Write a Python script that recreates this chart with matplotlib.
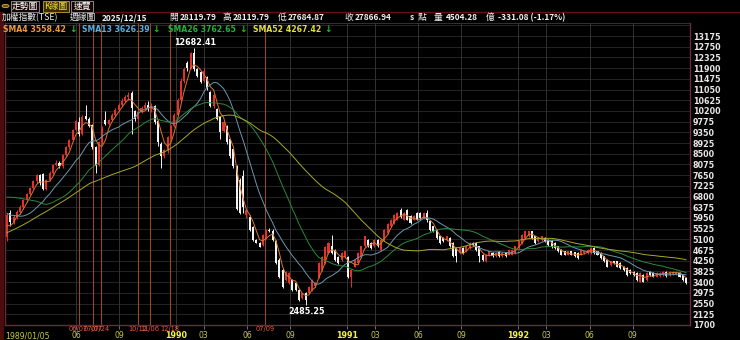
import matplotlib
matplotlib.use('Agg')
import matplotlib.pyplot as plt
from matplotlib.patches import Rectangle, Circle
import numpy as np
import pandas as pd

CJK = ['Noto Sans CJK TC', 'DejaVu Sans']

# weekly TAIEX bars starting 1989/01/05
opens = [
    5200, 6160, 5780, 5980, 6200, 6400, 6650, 6900, 7150, 7400, 7650, 7700, 7100,
    7450, 7750, 8050, 8150, 8000, 8450, 8750, 9050, 9450, 9750, 9300, 10000, 9900,
    9650, 8750, 8050, 8950, 9850, 9700, 9850, 10050, 10250, 10450, 10600, 10750, 10900,
    10200, 9900, 10150, 10300, 10450, 10300, 10400, 9800, 8900, 8400, 8650, 9150, 9600,
    10050, 10650, 11400, 12100, 11900, 12500, 11850, 11750, 11400, 11550, 10950, 10400, 10270,
    9950, 9390, 9590, 9070, 8672, 7995, 7477, 7600, 6050, 6000, 5600, 5086, 4967,
    4887, 5166, 5485, 5450, 5050, 4290, 3891, 3493, 3373, 3493, 3373, 3094, 2764,
    2963, 2963, 3094, 3230, 3612, 3891, 4170, 4568, 4820, 4688, 4409, 4290, 4420,
    4420, 3624, 4023, 4158, 4421, 4820, 5086, 4954, 4820, 5086, 4688, 5086, 5352,
    5618, 5751, 5883, 6250, 5883, 6250, 6020, 5883, 6150, 6150, 5950, 6150, 5820,
    5620, 5485, 5220, 5150, 5086, 5150, 4950, 4755, 4556, 4755, 4620, 4755, 4954,
    4954, 4820, 4489, 4222, 4489, 4556, 4421, 4590, 4421, 4556, 4489, 4489, 4556,
    4755, 4954, 5153, 5218, 5418, 5218, 5020, 5086, 5153, 5086, 5050, 4950, 4820,
    4690, 4620, 4490, 4620, 4580, 4556, 4489, 4556, 4556, 4556, 4755, 4620, 4556,
    4421, 4290, 4090, 4222, 4222, 4158, 4023, 3959, 3891, 3824, 3760, 3425, 3692,
    3493, 3824, 3760, 3624, 3650, 3692, 3800, 3692, 3720, 3730, 3760, 3692, 3561,
]
highs = [
    6150, 6250, 6050, 6250, 6450, 6700, 6950, 7200, 7450, 7700, 7700, 7750, 7500,
    7800, 8100, 8250, 8200, 8500, 8800, 9100, 9500, 9850, 9950, 10050, 10450, 9950,
    9700, 8800, 9000, 9600, 10200, 9900, 10100, 10300, 10500, 10700, 10850, 10950, 11000,
    10250, 10200, 10400, 10550, 10600, 10500, 10450, 9850, 8950, 8700, 9200, 9650, 10100,
    10700, 11500, 11950, 12200, 12550, 12682.41, 11900, 11800, 11900, 11600, 11000, 10900, 10300,
    10000, 9800, 9650, 9100, 8700, 8050, 7550, 7875, 6300, 6050, 5650, 5120, 5000,
    5300, 5500, 5560, 5520, 5080, 4350, 3950, 3850, 3800, 3530, 3400, 3130, 2990,
    3000, 3260, 3520, 3400, 4200, 4450, 4850, 5000, 5286, 4720, 4450, 4600, 4650,
    4450, 3920, 4300, 4590, 4850, 5250, 5120, 4990, 5120, 5120, 5120, 5520, 5750,
    5920, 6120, 6200, 6365, 6200, 6300, 6050, 6050, 6180, 6180, 6200, 6250, 5850,
    5650, 5520, 5250, 5180, 5250, 5180, 4980, 4800, 4800, 4790, 4850, 4990, 5000,
    4990, 4850, 4520, 4520, 4650, 4590, 4590, 4620, 4590, 4590, 4720, 4720, 4850,
    5050, 5320, 5450, 5450, 5450, 5250, 5180, 5250, 5180, 5120, 5086, 4990, 4850,
    4720, 4650, 4650, 4650, 4610, 4590, 4720, 4650, 4720, 4790, 4790, 4650, 4590,
    4450, 4320, 4250, 4250, 4250, 4190, 4050, 3990, 3920, 3850, 3790, 3790, 3720,
    3790, 3850, 3790, 3790, 3790, 3850, 3830, 3850, 3850, 3850, 3790, 3720, 3590,
]
lows = [
    5050, 5650, 5700, 5900, 6100, 6300, 6600, 6850, 7100, 7350, 7250, 7050, 7050,
    7400, 7700, 8000, 7950, 7950, 8400, 8700, 9000, 9400, 9200, 9250, 9850, 9550,
    8700, 7750, 8000, 8900, 9650, 9650, 9800, 10000, 10200, 10400, 10550, 10650, 9300,
    9800, 9850, 10100, 10250, 10200, 10150, 9700, 8800, 7950, 8350, 8550, 9100, 9550,
    10000, 10600, 11300, 11800, 11850, 11800, 11550, 11300, 11350, 11050, 10350, 10300, 9850,
    9070, 9350, 8900, 8350, 7950, 6250, 6100, 6150, 5950, 5450, 5050, 4950, 4790,
    4850, 5120, 5380, 5050, 4130, 3580, 3180, 3450, 3330, 3060, 3050, 2660, 2720,
    2485.25, 2930, 3060, 3200, 3580, 3850, 4130, 4530, 4520, 4250, 4130, 4250, 4380,
    3580, 3226, 3990, 4120, 4380, 4780, 4790, 4720, 4790, 4790, 4650, 5050, 5320,
    5580, 5720, 5850, 5960, 5850, 5850, 5720, 5850, 5850, 5900, 5900, 5800, 5450,
    5380, 5120, 4920, 4990, 5050, 4790, 4400, 4200, 4520, 4530, 4590, 4720, 4850,
    4650, 4200, 4260, 4190, 4450, 4400, 4400, 4420, 4400, 4400, 4460, 4460, 4520,
    4720, 4920, 5120, 5190, 5120, 4920, 4990, 5050, 4990, 4850, 4760, 4720, 4590,
    4460, 4460, 4460, 4460, 4420, 4330, 4460, 4520, 4520, 4520, 4520, 4460, 4330,
    4190, 3990, 4060, 4120, 3990, 3930, 3860, 3660, 3730, 3660, 3460, 3390, 3390,
    3460, 3660, 3590, 3590, 3620, 3660, 3620, 3660, 3690, 3700, 3590, 3460, 3330,
]
closes = [
    6080, 5780, 5980, 6200, 6400, 6650, 6900, 7150, 7400, 7650, 7350, 7100, 7450,
    7750, 8050, 8150, 8000, 8450, 8750, 9050, 9450, 9800, 9300, 9950, 9900, 9600,
    8750, 8000, 8950, 9500, 9700, 9850, 10050, 10250, 10450, 10600, 10750, 10850, 10300,
    9900, 10150, 10300, 10450, 10300, 10400, 9750, 8950, 8400, 8650, 9150, 9600, 10050,
    10650, 11400, 11850, 11900, 12500, 11880, 11600, 11350, 11800, 11100, 10400, 10850, 9870,
    9350, 9750, 8950, 8400, 8000, 6300, 6160, 6400, 6250, 5485, 5086, 4967, 4808,
    5286, 5485, 5420, 5086, 4170, 3612, 3214, 3812, 3772, 3094, 3094, 2696, 2963,
    2696, 3226, 3493, 3361, 4170, 4409, 4808, 4967, 4556, 4290, 4170, 4568, 4620,
    3624, 3891, 4290, 4556, 4820, 5218, 4820, 4755, 5086, 4820, 5086, 5485, 5711,
    5883, 6082, 6150, 5990, 6150, 5883, 5750, 6016, 5883, 5950, 6150, 5850, 5485,
    5420, 5154, 4954, 5020, 5218, 4820, 4421, 4421, 4755, 4556, 4820, 4954, 4880,
    4688, 4421, 4290, 4489, 4620, 4421, 4556, 4450, 4556, 4421, 4688, 4688, 4820,
    5020, 5286, 5418, 5418, 5153, 4954, 5153, 5218, 5020, 4887, 4790, 4760, 4620,
    4490, 4490, 4620, 4490, 4450, 4357, 4688, 4620, 4688, 4755, 4556, 4489, 4357,
    4222, 4023, 4222, 4158, 4023, 3959, 3891, 3692, 3760, 3692, 3493, 3760, 3425,
    3760, 3692, 3624, 3760, 3760, 3824, 3650, 3824, 3824, 3824, 3624, 3493, 3361,
]

# 1988 weekly closes, only used so the averages start with history behind them
closes_1988 = [
    2550, 2650, 2800, 2900, 3000, 3050, 3150, 3250, 3300, 3400, 3450, 3500, 3550,
    3650, 3800, 3950, 4100, 4300, 4500, 4650, 4800, 4900, 5000, 5100, 5200, 5300,
    5500, 5800, 6200, 6600, 6900, 7200, 7500, 7800, 8000, 8300, 8500, 8700, 7900,
    7000, 6700, 6200, 6400, 6600, 6500, 6300, 6300, 6200, 6000, 5800, 5500, 5200,
]

ma_periods = [4, 13, 26, 52]
ma_colors = ['#d9772c', '#6b98ae', '#2c8a3a', '#a8a82a']
legend_text = ['SMA4 3558.42', 'SMA13 3626.39', 'SMA26 3762.65', 'SMA52 4267.42']
legend_colors = ['#f09a3e', '#5aaee0', '#22b33a', '#e0e040']

event_dates = ['1989-06-07', '1989-07-07', '1989-07-24', '1989-10-12',
               '1989-11-06', '1989-12-18', '1990-07-09']
event_labels = ['06/07', '07/07', '07/24', '10/12', '11/06', '12/18', '07/09']

tick_dates = ['1989-06-01', '1989-09-01', '1990-01-01', '1990-03-01', '1990-06-01',
              '1990-09-01', '1991-01-01', '1991-03-01', '1991-06-01', '1991-09-01',
              '1992-01-01', '1992-03-01', '1992-06-01', '1992-09-01']
tick_labels = ['06', '09', '1990', '03', '06', '09', '1991', '03', '06', '09',
               '1992', '03', '06', '09']

y_ticks = np.arange(1700, 13176, 425)

W, H = 740, 340
fig = plt.figure(figsize=(W / 100, H / 100), dpi=100, facecolor='black')


def fx(px):
    return px / W


def fy(py):
    return 1 - py / H


ax = fig.add_axes([fx(5), fy(325), 685 / W, 302 / H])
ax.set_facecolor('black')

n = len(closes)
x = np.arange(n)
o, hi, lo, c = (np.array(a, dtype=float) for a in (opens, highs, lows, closes))
start = pd.Timestamp('1989-01-05')


def week_pos(d):
    return (pd.Timestamp(d) - start).days / 7


# grid
for v in np.arange(2125, 13700, 425):
    ax.axhline(v, color='#2a2a2a', lw=0.6, zorder=1)
tick_pos = [week_pos(d) for d in tick_dates]
for p in tick_pos:
    ax.axvline(p, color='#3a3a3a', lw=0.6, zorder=1)
for d in event_dates:
    ax.axvline(week_pos(d), color='#8c4a26', lw=0.8, zorder=2)

# candles
colors = np.where(c >= o, '#e8302a', '#f2f2f2')
ax.vlines(x, lo, hi, colors=colors, lw=0.7, zorder=3)
ax.bar(x, np.maximum(np.abs(c - o), 15), bottom=np.minimum(o, c), width=0.62,
       color=colors, linewidth=0, zorder=4)

# moving averages
allc = pd.Series(closes_1988 + closes, dtype=float)
for p, col in zip(ma_periods, ma_colors):
    ma = allc.rolling(p).mean().iloc[len(closes_1988):].values
    ax.plot(x, ma, color=col, lw=0.7, zorder=5)

# high / low labels
ih, il = int(np.argmax(hi)), int(np.argmin(lo))
ax.annotate(f'{hi[ih]:.2f}', (ih, hi[ih]), xytext=(1, 1), textcoords='offset points',
            ha='center', va='bottom', color='white', fontsize=5.8, fontweight='bold', zorder=6)
ax.annotate(f'{lo[il]:.2f}', (il, lo[il]), xytext=(1, -1), textcoords='offset points',
            ha='center', va='top', color='white', fontsize=5.8, fontweight='bold', zorder=6)

ax.set_xlim(-0.61, 208.2)
ax.set_ylim(1700, 13693)

ax.yaxis.tick_right()
ax.set_yticks(y_ticks)
ax.set_yticklabels([str(v) for v in y_ticks], fontsize=5.8, fontweight='bold', color='#e6e6e6')
ax.tick_params(axis='y', length=0, pad=2)
ax.set_xticks(tick_pos)
ax.set_xticklabels([])
ax.tick_params(axis='x', length=3, color='#808080', width=0.6)

for s in ['left', 'bottom', 'right']:
    ax.spines[s].set_color('#6b2a3c')
    ax.spines[s].set_linewidth(1)
ax.spines['top'].set_color('#3a3a3a')
ax.spines['top'].set_linewidth(0.6)

xt = ax.get_xaxis_transform()
ax.text(0.0, -0.035, '1989/01/05', transform=ax.transAxes, ha='left', va='center',
        fontsize=5.6, color='#c8c84a')
for p, lab in zip(tick_pos, tick_labels):
    year = len(lab) == 4
    ax.text(p, -0.035, lab, transform=xt, ha='center', va='center',
            fontsize=5.8 if year else 5.6, fontweight='bold' if year else 'normal',
            color='#f4f43c' if year else '#c8c84a')
for d, lab in zip(event_dates, event_labels):
    ax.text(week_pos(d), -0.012, lab, transform=xt, ha='center', va='center',
            fontsize=4.8, color='#e8603a')

# frame decorations
fig.add_artist(Rectangle((0, 0), fx(3.5), fy(12), transform=fig.transFigure,
                         facecolor='#4a0c0c', edgecolor='none'))
fig.add_artist(plt.Line2D([fx(95), 1], [fy(12), fy(12)], transform=fig.transFigure,
                          color='#6a1010', lw=1))

# tab row
fig.add_artist(Circle((fx(5.5), fy(6)), 3.5 / W, transform=fig.transFigure,
                      facecolor='#6a5010', edgecolor='#d0b040', lw=0.6))
tabs = [('走勢圖', 11, 39, '#1a0505', '#9a9a9a', 'white'),
        ('K線圖', 43, 69, '#3a2a00', '#c0a030', '#f0e040'),
        ('速覽', 71, 93, '#1a0505', '#9a9a9a', 'white')]
for label, x0, x1, fc, ec, tc in tabs:
    fig.add_artist(Rectangle((fx(x0), fy(11.5)), (x1 - x0) / W, 11 / H, transform=fig.transFigure,
                             facecolor=fc, edgecolor=ec, lw=0.6))
    fig.text(fx((x0 + x1) / 2), fy(6), label, ha='center', va='center', fontsize=6.3,
             color=tc, family=CJK)

# quote row
quote = [('加權指數(TSE)', 2, False), ('週線圖', 70, False), ('2025/12/15', 102, True),
         ('開', 169, False), ('28119.79', 180, True), ('高', 223, False),
         ('28119.79', 233, True), ('低', 278, False), ('27684.87', 288, True),
         ('收', 344, False), ('27866.94', 355, True), ('s', 410, True), ('點', 418, False),
         ('量', 434, False), ('4504.28', 446, True), ('億', 486, False),
         ('-331.08 (-1.17%)', 498, True)]
for txt, px, bold in quote:
    fig.text(fx(px), fy(17.5), txt, ha='left', va='center', fontsize=6.0 if bold else 6.3,
             fontweight='bold' if bold else 'normal', color='#f0f0f0', family=CJK)

# moving average legend
legend_x = [3, 82, 168, 253]
for txt, col, px in zip(legend_text, legend_colors, legend_x):
    t = fig.text(fx(px), fy(29), txt, ha='left', va='center', fontsize=5.6,
                 fontweight='bold', color=col)
    fig.canvas.draw()
    bb = t.get_window_extent()
    fig.text(bb.x1 / W + fx(3), fy(29), '↓', ha='left', va='center', fontsize=6.5,
             fontweight='bold', color='#20c020')

fig.savefig('out.png', dpi=100, facecolor='black')
